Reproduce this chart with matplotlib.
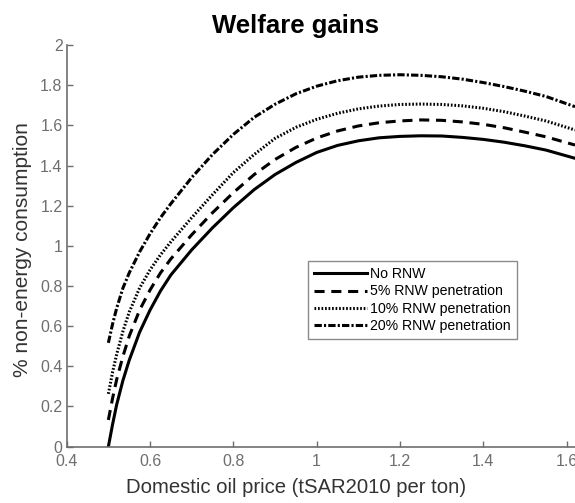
import matplotlib.pyplot as plt

plt.rcParams['font.family'] = ['Liberation Sans', 'DejaVu Sans']

# oil price grid (tSAR2010 per ton)
price = [0.5, 0.51, 0.52, 0.535, 0.55, 0.575, 0.6, 0.625, 0.65, 0.7, 0.75, 0.8, 0.85, 0.9,
         0.95, 1.0, 1.05, 1.1, 1.15, 1.2, 1.25, 1.3, 1.35, 1.4, 1.45, 1.5, 1.55, 1.62]

# welfare gains, % non-energy consumption
no_rnw = [0.0, 0.11, 0.21, 0.33, 0.43, 0.57, 0.68, 0.775, 0.855, 0.98, 1.09, 1.19, 1.28, 1.355,
          1.415, 1.465, 1.50, 1.523, 1.538, 1.545, 1.548, 1.547, 1.54, 1.53, 1.516, 1.498, 1.477, 1.436]
rnw_5 = [0.133, 0.24, 0.335, 0.45, 0.55, 0.68, 0.78, 0.865, 0.935, 1.055, 1.165, 1.265, 1.355, 1.43,
         1.49, 1.537, 1.572, 1.597, 1.613, 1.622, 1.627, 1.625, 1.617, 1.605, 1.588, 1.566, 1.543, 1.502]
rnw_10 = [0.263, 0.37, 0.46, 0.575, 0.67, 0.79, 0.88, 0.955, 1.02, 1.14, 1.255, 1.365, 1.455, 1.535,
          1.59, 1.63, 1.66, 1.682, 1.696, 1.704, 1.706, 1.704, 1.697, 1.685, 1.668, 1.646, 1.622, 1.577]
rnw_20 = [0.517, 0.61, 0.69, 0.79, 0.865, 0.97, 1.06, 1.14, 1.21, 1.34, 1.455, 1.555, 1.64, 1.705,
          1.757, 1.795, 1.822, 1.84, 1.849, 1.852, 1.849, 1.842, 1.83, 1.813, 1.793, 1.77, 1.744, 1.693]

labels = ['No RNW', '5% RNW penetration', '10% RNW penetration', '20% RNW penetration']

grey = '#6e6e6e'

fig = plt.figure(figsize=(5.75, 5.03), dpi=100)
ax = fig.add_axes([0.116, 0.112, 0.884, 0.7985])

ax.plot(price, no_rnw, color='black', lw=2.2, ls='-', label=labels[0])
ax.plot(price, rnw_5, color='black', lw=2.2, ls=(0, (3.3, 2.2)), label=labels[1])
ax.plot(price, rnw_10, color='black', lw=2.2, ls=(0, (0.55, 0.6)), label=labels[2])
ax.plot(price, rnw_20, color='black', lw=2.2, ls=(0, (2.4, 0.7, 0.7, 0.7)), label=labels[3])

ax.set_xlim(0.4, 1.62)
ax.set_ylim(0, 2)
ax.set_xticks([0.4, 0.6, 0.8, 1, 1.2, 1.4, 1.6])
ax.set_xticklabels(['0.4', '0.6', '0.8', '1', '1.2', '1.4', '1.6'])
ax.set_yticks([0, 0.2, 0.4, 0.6, 0.8, 1, 1.2, 1.4, 1.6, 1.8, 2])
ax.set_yticklabels(['0', '0.2', '0.4', '0.6', '0.8', '1', '1.2', '1.4', '1.6', '1.8', '2'])

for s in ['top', 'right']:
    ax.spines[s].set_visible(False)
for s in ['left', 'bottom']:
    ax.spines[s].set_color(grey)
    ax.spines[s].set_linewidth(1.2)
ax.tick_params(direction='in', length=4, width=1, colors=grey, labelsize=11.5)
ax.tick_params(axis='x', pad=5)
ax.tick_params(axis='y', pad=3)

title = ax.set_title('Welfare gains', fontsize=18.5, fontweight='bold', pad=9)
title.set_x(0.451)
ax.set_xlabel('Domestic oil price (tSAR2010 per ton)', fontsize=14.6, color='#333333')
ax.xaxis.set_label_coords(0.451, -0.078)
ax.set_ylabel('% non-energy consumption', fontsize=15, color='#333333')
ax.yaxis.set_label_coords(-0.068, 0.49)

leg = ax.legend(loc='upper left', bbox_to_anchor=(0.4747, 0.4623), fontsize=10.2,
                frameon=True, fancybox=False, handlelength=3.75, handletextpad=0.15,
                labelspacing=0.22, borderpad=0.45, borderaxespad=0)
leg.get_frame().set_edgecolor(grey)
leg.get_frame().set_linewidth(1.0)

fig.savefig('out.png', dpi=100)
